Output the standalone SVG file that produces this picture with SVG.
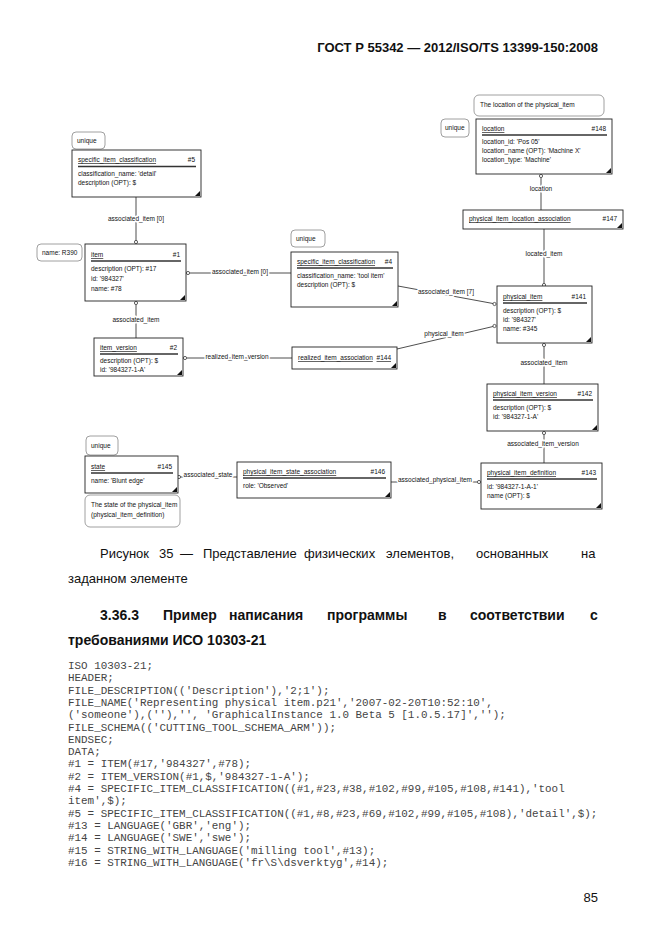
<svg xmlns="http://www.w3.org/2000/svg" width="662" height="935" viewBox="0 0 662 935">
<style>
.bg{fill:#fff}
.box{fill:#fff;stroke:#222;stroke-width:0.9}
.tag{fill:#fff;stroke:#888;stroke-width:0.8}
.sep{stroke:#333;stroke-width:1.4}
.tri{fill:#111}
.t{font-family:"Liberation Sans",Arial,sans-serif;font-size:6.5px;fill:#111}
.tl{font-family:"Liberation Sans",Arial,sans-serif;font-size:6.5px;fill:#111;text-decoration:underline}
.lbl{font-family:"Liberation Sans",Arial,sans-serif;font-size:6.5px;fill:#111;text-anchor:middle;stroke:#fff;stroke-width:3px;paint-order:stroke;stroke-linejoin:round}
.con{stroke:#222;stroke-width:0.8;fill:none}
.end{fill:#fff;stroke:#222;stroke-width:0.7}
.hd{font-family:"Liberation Sans",Arial,sans-serif;font-weight:bold;font-size:13px;fill:#111}
.cap{font-family:"Liberation Sans",Arial,sans-serif;font-size:13px;fill:#111}
.h2{font-family:"Liberation Sans",Arial,sans-serif;font-weight:bold;font-size:14px;fill:#111}
.code{font-family:"Liberation Mono","Courier New",monospace;font-size:10.9px;fill:#444;white-space:pre}
</style>
<rect class="bg" x="0" y="0" width="662" height="935"/>
<text class="hd" x="598" y="52" text-anchor="end">ГОСТ Р 55342 — 2012/ISO/TS 13399-150:2008</text>

<g id="connectors">
  <line class="con" x1="136" y1="197" x2="136" y2="241"/>
  <circle class="end" cx="136" cy="242" r="1.6"/>
  <text class="lbl" x="136" y="221">associated_item [0]</text>

  <line class="con" x1="189.5" y1="273" x2="291" y2="273"/>
  <circle class="end" cx="188" cy="273" r="1.6"/>
  <text class="lbl" x="240" y="274">associated_item [0]</text>

  <line class="con" x1="136" y1="304.5" x2="136" y2="338"/>
  <circle class="end" cx="136" cy="303" r="1.6"/>
  <text class="lbl" x="136" y="322">associated_item</text>

  <line class="con" x1="186.5" y1="358" x2="292" y2="358"/>
  <circle class="end" cx="185" cy="358" r="1.6"/>
  <text class="lbl" x="237" y="359">realized_item_version</text>

  <line class="con" x1="541" y1="177.5" x2="541" y2="210"/>
  <circle class="end" cx="541" cy="176" r="1.6"/>
  <text class="lbl" x="541" y="191">location</text>

  <line class="con" x1="544" y1="229" x2="544" y2="283.5"/>
  <circle class="end" cx="544" cy="285" r="1.6"/>
  <text class="lbl" x="544" y="256">located_item</text>

  <line class="con" x1="398" y1="286" x2="493" y2="303.5"/>
  <circle class="end" cx="494.5" cy="304" r="1.6"/>
  <text class="lbl" x="446" y="294">associated_item [7]</text>

  <line class="con" x1="397" y1="349" x2="493" y2="326.5"/>
  <circle class="end" cx="494.5" cy="326" r="1.6"/>
  <text class="lbl" x="444" y="336">physical_item</text>

  <line class="con" x1="544" y1="346.5" x2="544" y2="384"/>
  <circle class="end" cx="544" cy="345" r="1.6"/>
  <text class="lbl" x="544" y="365">associated_item</text>

  <line class="con" x1="544" y1="434.5" x2="544" y2="463"/>
  <circle class="end" cx="544" cy="433" r="1.6"/>
  <text class="lbl" x="543" y="446">associated_item_version</text>

  <line class="con" x1="391" y1="482" x2="477.5" y2="482"/>
  <circle class="end" cx="479" cy="482" r="1.6"/>
  <text class="lbl" x="435" y="482">associated_physical_item</text>

  <line class="con" x1="180.5" y1="477" x2="237" y2="477"/>
  <circle class="end" cx="179" cy="477" r="1.6"/>
  <text class="lbl" x="208" y="477">associated_state</text>
</g>

<g id="tag-unique5">
  <rect class="tag" x="72" y="132" width="33" height="17" rx="4"/>
  <text class="t" x="77" y="143">unique</text>
</g>
<g id="node5">
  <rect class="box" x="72" y="150" width="129" height="47"/>
  <text class="tl" x="78" y="162">specific_item_classification</text>
  <text class="t" x="195" y="162" text-anchor="end">#5</text>
  <line class="sep" x1="78" y1="166.5" x2="196" y2="166.5"/>
  <text class="t" x="78" y="176">classification_name: 'detail'</text>
  <text class="t" x="78" y="185">description (OPT): $</text>
  <polygon class="tri" points="200,191 200,196 195,196"/>
</g>

<g id="tag-name">
  <rect class="tag" x="37" y="244" width="45" height="17" rx="4"/>
  <text class="t" x="42" y="255">name: R390</text>
</g>
<g id="node1">
  <rect class="box" x="85" y="244" width="101" height="57"/>
  <text class="tl" x="91" y="257">item</text>
  <text class="t" x="180" y="257" text-anchor="end">#1</text>
  <line class="sep" x1="91" y1="261" x2="181" y2="261"/>
  <text class="t" x="91" y="271">description (OPT): #17</text>
  <text class="t" x="91" y="281">id: '984327'</text>
  <text class="t" x="91" y="291">name: #78</text>
  <polygon class="tri" points="185,295 185,300 180,300"/>
</g>

<g id="node2">
  <rect class="box" x="94" y="338" width="89" height="38"/>
  <text class="tl" x="100" y="350">item_version</text>
  <text class="t" x="177" y="350" text-anchor="end">#2</text>
  <line class="sep" x1="100" y1="354" x2="178" y2="354"/>
  <text class="t" x="100" y="363">description (OPT): $</text>
  <text class="t" x="100" y="372">id: '984327-1-A'</text>
  <polygon class="tri" points="182,370 182,375 177,375"/>
</g>

<g id="tag-unique4">
  <rect class="tag" x="291" y="230" width="34" height="17" rx="4"/>
  <text class="t" x="296" y="241">unique</text>
</g>
<g id="node4">
  <rect class="box" x="291" y="252" width="107" height="55"/>
  <text class="tl" x="297" y="264">specific_item_classification</text>
  <text class="t" x="392" y="264" text-anchor="end">#4</text>
  <line class="sep" x1="297" y1="268" x2="393" y2="268"/>
  <text class="t" x="297" y="278">classification_name: 'tool item'</text>
  <text class="t" x="297" y="287">description (OPT): $</text>
  <polygon class="tri" points="397,301 397,306 392,306"/>
</g>

<g id="node144">
  <rect class="box" x="292" y="347" width="105" height="22"/>
  <text class="tl" x="298" y="360">realized_item_association</text>
  <text class="tl" x="391" y="360" text-anchor="end">#144</text>
  <polygon class="tri" points="396,363 396,368 391,368"/>
</g>

<g id="note148">
  <rect class="tag" x="474" y="95" width="130" height="21" rx="5"/>
  <text class="t" x="480" y="107">The location of the physical_item</text>
</g>
<g id="tag-unique148">
  <rect class="tag" x="441" y="119" width="28" height="18" rx="4"/>
  <text class="t" x="445" y="130">unique</text>
</g>
<g id="node148">
  <rect class="box" x="476" y="119" width="136" height="55"/>
  <text class="tl" x="482" y="131">location</text>
  <text class="t" x="606" y="131" text-anchor="end">#148</text>
  <line class="sep" x1="482" y1="135" x2="607" y2="135"/>
  <text class="t" x="482" y="144">location_id: 'Pos 05'</text>
  <text class="t" x="482" y="153">location_name (OPT): 'Machine X'</text>
  <text class="t" x="482" y="162">location_type: 'Machine'</text>
  <polygon class="tri" points="611,168 611,173 606,173"/>
</g>

<g id="node147">
  <rect class="box" x="463" y="210" width="160" height="19"/>
  <text class="tl" x="469" y="221">physical_item_location_association</text>
  <text class="t" x="617" y="221" text-anchor="end">#147</text>
  <polygon class="tri" points="622,223 622,228 617,228"/>
</g>

<g id="node141">
  <rect class="box" x="497" y="286" width="95" height="57"/>
  <text class="tl" x="503" y="299">physical_item</text>
  <text class="t" x="586" y="299" text-anchor="end">#141</text>
  <line class="sep" x1="503" y1="303" x2="587" y2="303"/>
  <text class="t" x="503" y="313">description (OPT): $</text>
  <text class="t" x="503" y="322">id: '984327'</text>
  <text class="t" x="503" y="331">name: #345</text>
  <polygon class="tri" points="591,337 591,342 586,342"/>
</g>

<g id="node142">
  <rect class="box" x="487" y="384" width="111" height="47"/>
  <text class="tl" x="493" y="396">physical_item_version</text>
  <text class="t" x="592" y="396" text-anchor="end">#142</text>
  <line class="sep" x1="493" y1="400" x2="593" y2="400"/>
  <text class="t" x="493" y="410">description (OPT): $</text>
  <text class="t" x="493" y="419">id: '984327-1-A'</text>
  <polygon class="tri" points="597,425 597,430 592,430"/>
</g>

<g id="node143">
  <rect class="box" x="481" y="463" width="121" height="46"/>
  <text class="tl" x="487" y="475">physical_item_definition</text>
  <text class="t" x="596" y="475" text-anchor="end">#143</text>
  <line class="sep" x1="487" y1="479" x2="597" y2="479"/>
  <text class="t" x="487" y="489">id: '984327-1-A-1'</text>
  <text class="t" x="487" y="498">name (OPT): $</text>
  <polygon class="tri" points="601,503 601,508 596,508"/>
</g>

<g id="node146">
  <rect class="box" x="237" y="462" width="154" height="36"/>
  <text class="tl" x="243" y="474">physical_item_state_association</text>
  <text class="t" x="385" y="474" text-anchor="end">#146</text>
  <line class="sep" x1="243" y1="478" x2="386" y2="478"/>
  <text class="t" x="243" y="488">role: 'Observed'</text>
  <polygon class="tri" points="390,492 390,497 385,497"/>
</g>

<g id="tag-unique145">
  <rect class="tag" x="86" y="436" width="32" height="19" rx="4"/>
  <text class="t" x="91" y="448">unique</text>
</g>
<g id="node145">
  <rect class="box" x="85" y="456" width="93" height="37"/>
  <text class="tl" x="91" y="469">state</text>
  <text class="t" x="172" y="469" text-anchor="end">#145</text>
  <line class="sep" x1="91" y1="473" x2="173" y2="473"/>
  <text class="t" x="91" y="483">name: 'Blunt edge'</text>
  <polygon class="tri" points="177,487 177,492 172,492"/>
</g>
<g id="note145">
  <rect class="tag" x="85" y="495" width="95" height="32" rx="5"/>
  <text class="t" x="91" y="507">The state of the physical_item</text>
  <text class="t" x="91" y="517">(physical_item_definition)</text>
</g>

<text class="cap" y="558"><tspan x="100">Рисунок</tspan><tspan x="159">35</tspan><tspan x="180">—</tspan><tspan x="203">Представление</tspan><tspan x="304">физических</tspan><tspan x="386">элементов,</tspan><tspan x="476">основанных</tspan><tspan x="581">на</tspan></text>
<text class="cap" x="68" y="583">заданном элементе</text>

<text class="h2" y="620"><tspan x="100">3.36.3</tspan><tspan x="163">Пример</tspan><tspan x="229">написания</tspan><tspan x="327">программы</tspan><tspan x="438">в</tspan><tspan x="470">соответствии</tspan><tspan x="590">с</tspan></text>
<text class="h2" x="68" y="645">требованиями  ИСО 10303-21</text>

<g id="code">
<text class="code" x="68" y="669">ISO 10303-21;</text>
<text class="code" x="68" y="681.3">HEADER;</text>
<text class="code" x="68" y="693.6">FILE_DESCRIPTION(('Description'),'2;1');</text>
<text class="code" x="68" y="705.9">FILE_NAME('Representing physical item.p21','2007-02-20T10:52:10',</text>
<text class="code" x="68" y="718.2">('someone'),(''),'', 'GraphicalInstance 1.0 Beta 5 [1.0.5.17]','');</text>
<text class="code" x="68" y="730.5">FILE_SCHEMA(('CUTTING_TOOL_SCHEMA_ARM'));</text>
<text class="code" x="68" y="742.8">ENDSEC;</text>
<text class="code" x="68" y="755.1">DATA;</text>
<text class="code" x="68" y="767.4">#1 = ITEM(#17,'984327',#78);</text>
<text class="code" x="68" y="779.7">#2 = ITEM_VERSION(#1,$,'984327-1-A');</text>
<text class="code" x="68" y="792">#4 = SPECIFIC_ITEM_CLASSIFICATION((#1,#23,#38,#102,#99,#105,#108,#141),'tool</text>
<text class="code" x="68" y="804.3">item',$);</text>
<text class="code" x="68" y="816.6">#5 = SPECIFIC_ITEM_CLASSIFICATION((#1,#8,#23,#69,#102,#99,#105,#108),'detail',$);</text>
<text class="code" x="68" y="828.9">#13 = LANGUAGE('GBR','eng');</text>
<text class="code" x="68" y="841.2">#14 = LANGUAGE('SWE','swe');</text>
<text class="code" x="68" y="853.5">#15 = STRING_WITH_LANGUAGE('milling tool',#13);</text>
<text class="code" x="68" y="865.8">#16 = STRING_WITH_LANGUAGE('fr\S\dsverktyg',#14);</text>
</g>

<text class="cap" x="598" y="902" text-anchor="end">85</text>
</svg>
